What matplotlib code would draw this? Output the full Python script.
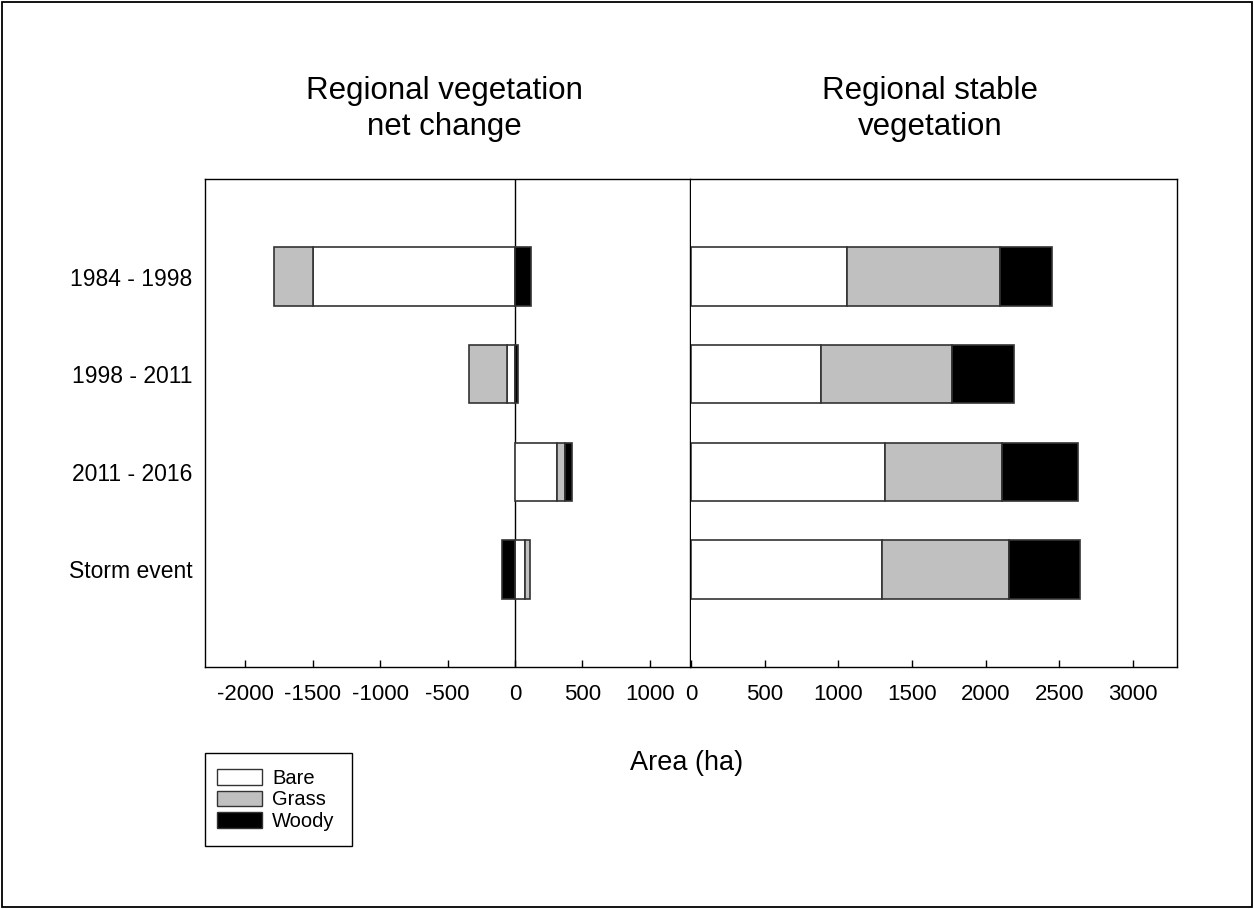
import matplotlib
matplotlib.use("Agg")
import matplotlib.pyplot as plt
import matplotlib.patches as mpatches
import numpy as np

plt.rcParams["font.family"] = ["Liberation Sans", "DejaVu Sans"]
plt.rcParams["axes.unicode_minus"] = False

periods = ["1984 - 1998", "1998 - 2011", "2011 - 2016", "Storm event"]
classes = ["Bare", "Grass", "Woody"]
colors = {"Bare": "white", "Grass": "#c0c0c0", "Woody": "black"}

# net change per period (ha)
net_bare = [-1500, -55, 315, 75]
net_grass = [-290, -285, 60, 35]
net_woody = [120, 25, 50, -95]

# stable area per period (ha)
stable_bare = [1060, 885, 1315, 1295]
stable_grass = [1040, 885, 795, 865]
stable_woody = [350, 420, 520, 480]

net = {"Bare": net_bare, "Grass": net_grass, "Woody": net_woody}
stable = {"Bare": stable_bare, "Grass": stable_grass, "Woody": stable_woody}

W, H = 1254, 909
fig = plt.figure(figsize=(W / 100, H / 100), dpi=100)
fig.patches.append(mpatches.Rectangle((2 / W, 2 / H), 1 - 4 / W, 1 - 4 / H,
                                      transform=fig.transFigure, fill=False,
                                      edgecolor="black", lw=1.3))

bottom = 1 - 667 / H
height = (667 - 179) / H
ax1 = fig.add_axes([205 / W, bottom, 485 / W, height])
ax2 = fig.add_axes([691 / W, bottom, 486 / W, height])

y = np.arange(len(periods))
bar_h = 0.6
edge = dict(edgecolor="#333333", linewidth=1.2)

# diverging stack: positives to the right, negatives to the left
pos_left = np.zeros(len(periods))
neg_left = np.zeros(len(periods))
for c in classes:
    vals = np.array(net[c], dtype=float)
    starts = np.where(vals >= 0, pos_left, neg_left)
    ax1.barh(y, vals, left=starts, height=bar_h, color=colors[c], **edge)
    pos_left += np.where(vals >= 0, vals, 0)
    neg_left += np.where(vals < 0, vals, 0)
ax1.axvline(0, color="black", lw=1.0, zorder=0)

left = np.zeros(len(periods))
for c in classes:
    vals = np.array(stable[c], dtype=float)
    ax2.barh(y, vals, left=left, height=bar_h, color=colors[c], **edge)
    left += vals

ax1.set_xlim(-2300, 1300)
ax1.set_xticks([-2000, -1500, -1000, -500, 0, 500, 1000])
ax2.set_xlim(0, 3300)
ax2.set_xticks([0, 500, 1000, 1500, 2000, 2500, 3000])

for ax in (ax1, ax2):
    ax.set_ylim(4, -1)
    ax.tick_params(axis="x", direction="in", length=5, width=1, pad=12,
                   labelsize=16, top=False)
    for sp in ax.spines.values():
        sp.set_linewidth(1.0)
ax2.spines["left"].set_visible(False)
ax1.set_yticks(y)
ax1.set_yticklabels(periods)
ax1.tick_params(axis="y", length=0, pad=9, labelsize=16.5)
ax2.set_yticks([])

fig.text(444 / W, 1 - 109 / H, "Regional vegetation\nnet change",
         ha="center", va="center", fontsize=22.5, linespacing=1.3)
fig.text(930 / W, 1 - 109 / H, "Regional stable\nvegetation",
         ha="center", va="center", fontsize=22.5, linespacing=1.3)
fig.text(687 / W, 1 - 763 / H, "Area (ha)", ha="center", va="center",
         fontsize=19.5)

# legend with hand-placed frame
handles = [mpatches.Patch(facecolor=colors[c], edgecolor="#333333", lw=1.0)
           for c in classes]
fig.legend(handles, classes, loc="upper left",
           bbox_to_anchor=(217 / W, 1 - 769 / H), frameon=False, fontsize=14.5,
           handlelength=2.25, handleheight=0.8, handletextpad=0.5,
           labelspacing=0.12, borderaxespad=0, borderpad=0)
fig.patches.append(mpatches.Rectangle((205 / W, 1 - 846 / H), 147 / W, 93 / H,
                                      transform=fig.transFigure, fill=False,
                                      edgecolor="black", lw=1.0))

fig.savefig("out.png", dpi=100)
